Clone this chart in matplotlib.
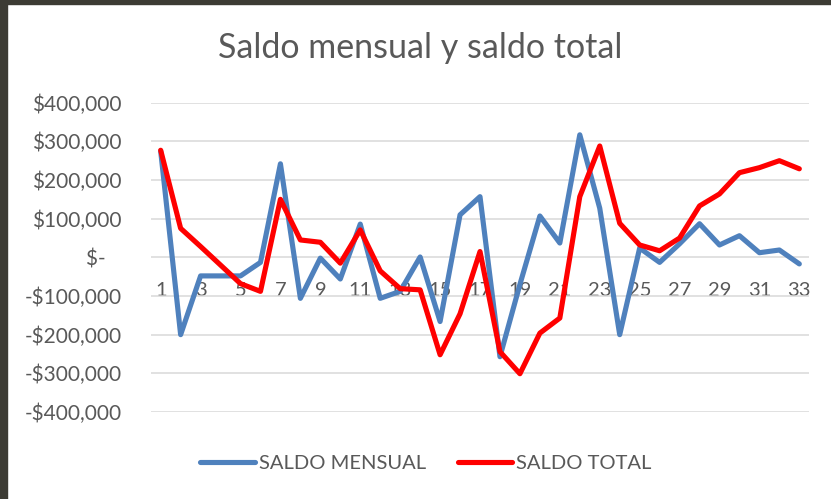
import matplotlib
matplotlib.use("Agg")
import matplotlib.pyplot as plt
from matplotlib.patches import Rectangle
from matplotlib.ticker import FuncFormatter

# months 1..33
months = list(range(1, 34))
saldo_mensual = [275000, -200000, -48000, -48000, -48000, -13000, 242000, -106000,
                 -2000, -56000, 86000, -106000, -88000, 1000, -166000, 110000,
                 157000, -257000, -70000, 107000, 37000, 317000, 127000, -200000,
                 24000, -13000, 35000, 87000, 32000, 56000, 12000, 19000, -17000]
saldo_total = [277000, 75000, 28000, -20000, -68000, -88000, 150000, 45000,
               39000, -15000, 71000, -35000, -81000, -84000, -252000, -146000,
               15000, -244000, -301000, -196000, -157000, 157000, 288000, 88000,
               32000, 17000, 50000, 133000, 164000, 219000, 232000, 250000, 229000]
x_labels = list(range(1, 34, 2))
y_ticks = [-400000, -300000, -200000, -100000, 0, 100000, 200000, 300000, 400000]

TXT = "#595959"
FONT = "Lato"


def money(v, pos):
    if v == 0:
        return "$-   "
    if v < 0:
        return "-${:,.0f}".format(-v)
    return "${:,.0f}".format(v)


fig = plt.figure(figsize=(8.31, 4.99), dpi=100)
fig.patch.set_facecolor("white")
ax = fig.add_axes([0.18135, 0.17435, 0.79254, 0.61984])

ax.plot(months, saldo_mensual, color="#4f81bd", lw=3.7,
        solid_joinstyle="round", solid_capstyle="round", label="SALDO MENSUAL")
ax.plot(months, saldo_total, color="#ff0000", lw=3.7,
        solid_joinstyle="round", solid_capstyle="round", label="SALDO TOTAL")

ax.set_xlim(0.5, 33.5)
ax.set_ylim(-400000, 400000)
ax.set_yticks(y_ticks)
ax.yaxis.set_major_formatter(FuncFormatter(money))
ax.set_xticks(x_labels)
ax.grid(axis="y", color="#d9d9d9", lw=1.1)
ax.set_axisbelow(True)
for s in ["left", "right", "top"]:
    ax.spines[s].set_visible(False)
ax.spines["bottom"].set_position(("data", 0))
ax.spines["bottom"].set_visible(False)
ax.tick_params(axis="y", length=0, pad=21, labelsize=15, labelcolor=TXT)
ax.tick_params(axis="x", length=0, pad=18, labelsize=14.5, labelcolor=TXT)
for lab in ax.get_xticklabels() + ax.get_yticklabels():
    lab.set_fontfamily(FONT)

fig.text(420 / 831, 1 - 57.7 / 499, "Saldo mensual y saldo total",
         ha="center", va="baseline", fontsize=24.5, color=TXT, family=FONT)

leg = fig.legend(loc="center", bbox_to_anchor=(426 / 831, 1 - 463 / 499), ncol=2,
                 frameon=False, handlelength=2.7, handletextpad=0.2,
                 columnspacing=1.6, prop={"family": FONT, "size": 14.5})
for t in leg.get_texts():
    t.set_color(TXT)

# dark frame from the screenshot
fig.patches.append(Rectangle((0, 0), 7 / 831, 1, transform=fig.transFigure,
                             color="#3c3b34", zorder=10))
fig.patches.append(Rectangle((0, 1 - 3.5 / 499), 1, 3.5 / 499, transform=fig.transFigure,
                             color="#3c3b34", zorder=10))

fig.savefig("out.png", dpi=100)
